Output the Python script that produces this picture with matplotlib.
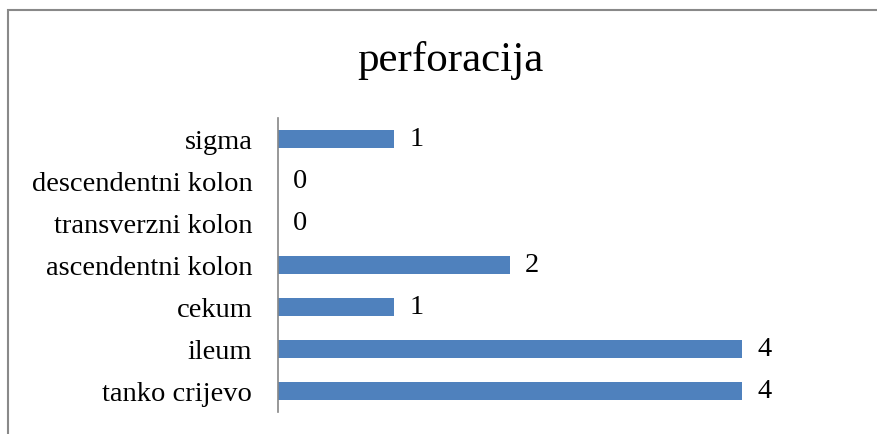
import matplotlib
matplotlib.use('Agg')
import matplotlib.pyplot as plt
from matplotlib.patches import Rectangle

# data
categories = ['tanko crijevo', 'ileum', 'cekum', 'ascendentni kolon',
              'transverzni kolon', 'descendentni kolon', 'sigma']
values = [4, 4, 1, 2, 0, 0, 1]
title = 'perforacija'

plt.rcParams['font.family'] = ['Liberation Serif', 'DejaVu Serif']

fig = plt.figure(figsize=(8.77, 4.35), dpi=100)

# chart border (right and bottom edges fall outside the picture)
fig.patches.append(Rectangle((8 / 877, -0.05), 1.2, 1 - 11 / 435 + 0.05,
                             transform=fig.transFigure, fill=False,
                             edgecolor='#898989', linewidth=1.5))

ax = fig.add_axes([278 / 877, 22 / 435, 580 / 877, 294 / 435])
ypos = range(len(categories))
ax.barh(ypos, values, height=0.41, color='#4F81BD')
ax.set_xlim(0, 5)
ax.set_ylim(-0.5, len(categories) - 0.5)

for y, v in zip(ypos, values):
    ax.text(v + 0.13, y, str(v), va='center', ha='left', fontsize=20.5)

ax.set_yticks(list(ypos))
ax.set_yticklabels(categories, fontsize=20.5)
ax.tick_params(axis='y', length=0, pad=18.5)
ax.set_xticks([])
for s in ['top', 'right', 'bottom']:
    ax.spines[s].set_visible(False)
ax.spines['left'].set_color('#868686')
ax.spines['left'].set_linewidth(1.2)

fig.text(450 / 877, 1 - 61 / 435, title, ha='center', va='center', fontsize=31)

plt.savefig('out.png', dpi=100)
